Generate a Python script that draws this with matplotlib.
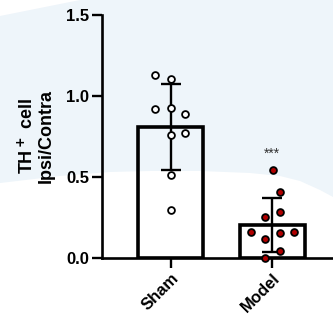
import numpy as np
import matplotlib
matplotlib.use("Agg")
import matplotlib.pyplot as plt
from matplotlib.patches import Polygon

plt.rcParams['font.family'] = ['Liberation Sans', 'DejaVu Sans']

# данные
groups = ['Sham', 'Model']
sham = [1.128, 1.103, 0.917, 0.924, 0.886, 0.756, 0.773, 0.514, 0.298]
sham_dx = [-0.155, 0.0, -0.155, 0.0, 0.145, 0.0, 0.145, 0.0, 0.0]
model = [0.541, 0.407, 0.281, 0.252, 0.159, 0.118, 0.153, 0.159, 0.043, 0.002]
model_dx = [0.01, 0.08, 0.08, -0.065, -0.21, -0.065, 0.08, 0.22, 0.08, -0.065]
means = [0.808, 0.203]
sds = [0.267, 0.165]
star_y = 0.64

fig = plt.figure(figsize=(3.33, 3.22), dpi=100)

# фон слайда
W, H = 333, 322
bg = [(0, 16), (80, 0), (333, 0), (333, 197), (320, 190), (300, 181), (280, 176),
      (250, 173), (200, 171), (150, 171), (110, 172), (60, 176), (0, 183)]
bg = [(x / W, 1 - y / H) for x, y in bg]
fig.patches.append(Polygon(bg, closed=True, transform=fig.transFigure,
                           facecolor='#eef5fa', edgecolor='none', zorder=-5))

ax = fig.add_axes([0.305, 0.199, 0.695, 0.755])
ax.set_zorder(2)
ax.patch.set_alpha(0)

x = np.arange(len(groups))
ax.bar(x, means, width=0.64, color='none', edgecolor='black', linewidth=2.6, zorder=2)
ax.errorbar(x, means, yerr=sds, fmt='none', ecolor='black', elinewidth=1.7,
            capsize=7, capthick=1.7, zorder=3)

ax.scatter(x[0] + np.array(sham_dx), sham, s=24, facecolor='white',
           edgecolor='black', linewidth=1.3, zorder=4, clip_on=False)
ax.scatter(x[1] + np.array(model_dx), model, s=24, facecolor='#b00000',
           edgecolor='black', linewidth=1.3, zorder=4, clip_on=False)

ax.text(x[1], star_y, '***', ha='center', va='center', fontsize=10, color='#333333')

ax.set_xlim(-0.68, 1.6)
ax.set_ylim(0, 1.5)
ax.set_yticks([0, 0.5, 1.0, 1.5])
ax.set_yticklabels(['0.0', '0.5', '1.0', '1.5'], fontweight='bold', fontsize=12)
ax.set_xticks(x)
ax.set_xticklabels(groups, rotation=45, ha='right', rotation_mode='anchor',
                   fontweight='bold', fontsize=12)
ax.tick_params(width=1.7, length=7, pad=2)
ax.set_ylabel('TH$^{\\bf +}$ cell\nIpsi/Contra', fontweight='bold', fontsize=13,
              labelpad=8, linespacing=1.05)

for s in ['top', 'right']:
    ax.spines[s].set_visible(False)
for s in ['left', 'bottom']:
    ax.spines[s].set_linewidth(1.9)

fig.savefig('out.png', dpi=100)
